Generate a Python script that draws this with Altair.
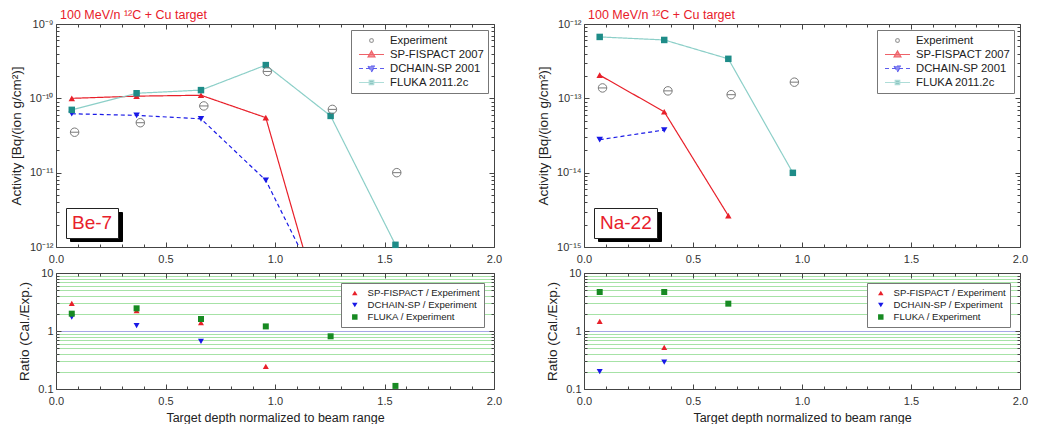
import math
import altair as alt
import pandas as pd

FONT = "Liberation Sans"

# ---------------- data ----------------
SERIES = ["Experiment", "SP-FISPACT 2007", "DCHAIN-SP 2001", "FLUKA 2011.2c"]
MODELS = SERIES[1:]
RATIO_SERIES = ["SP-FISPACT / Experiment", "DCHAIN-SP / Experiment", "FLUKA / Experiment"]
PANEL_LABELS = ["Be-7", "Na-22"]
TITLE = "100 MeV/n ¹²C + Cu target"

X_MODEL = [0.072, 0.368, 0.662, 0.958, 1.254, 1.550]
X_EXP = [0.085, 0.385, 0.675, 0.965, 1.262, 1.556]

# Be-7 activity [Bq/(ion g/cm2)]  (last SP / DCHAIN values lie below the plotted range)
BE7_EXP = [3.5e-11, 4.7e-11, 7.9e-11, 2.3e-10, 7.1e-11, 1.0e-11]
BE7_SP = [1.0e-10, 1.07e-10, 1.1e-10, 5.5e-11, 5.0e-14]
BE7_DC = [6.2e-11, 5.9e-11, 5.3e-11, 7.9e-12, 1.4e-13]
BE7_FL = [7.0e-11, 1.17e-10, 1.29e-10, 2.8e-10, 5.8e-11, 1.07e-12]

# Na-22 activity
NA22_EXP = [1.38e-13, 1.26e-13, 1.12e-13, 1.65e-13]
NA22_SP = [2.05e-13, 6.6e-14, 2.64e-15]
NA22_DC = [2.78e-14, 3.75e-14]
NA22_FL = [6.7e-13, 6.1e-13, 3.4e-13, 9.95e-15]

# Ratios Cal./Exp.
BE7_R_SP = [3.0, 2.24, 1.39, 0.246]
BE7_R_DC = [1.74, 1.24, 0.66]
BE7_R_FL = [1.99, 2.46, 1.61, 1.2, 0.81, 0.113]
NA22_R_SP = [1.47, 0.52]
NA22_R_DC = [0.199, 0.29]
NA22_R_FL = [4.7, 4.7, 2.96]

# ---------------- styles ----------------
RED = "#e8202a"
BLUE = "#1818e6"
TEAL_M = "#1e8c88"
TEAL_L = "#8ccfc8"
GRAY = "#7a7a7a"
GREEN = "#178a22"
FRAME = "#444444"

W_L, W_R = 438, 436
H_T, H_B = 223, 116

EXP_PATH = "M1,0A1,1 0 1,1 -1,0A1,1 0 1,1 1,0Z M-1,0L1,0"
LEG_PATHS = [
    "M0.15,0A0.15,0.15 0 1,1 -0.15,0A0.15,0.15 0 1,1 0.15,0Z",
    "M-1,0L1,0M0,-0.28L0.28,0.2L-0.28,0.2Z",
    "M-1,0L1,0M0,0.28L0.28,-0.2L-0.28,-0.2Z",
    "M-1,0L1,0M-0.18,-0.18L0.18,-0.18L0.18,0.18L-0.18,0.18Z",
]
FILL_RANGE = ["transparent", RED, BLUE, TEAL_M]
STROKE_RANGE = [GRAY, RED, BLUE, TEAL_L]
DASH_RANGE = [[1, 0], [1, 0], [4, 3], [1, 0]]
MODEL_STYLE = {
    MODELS[0]: dict(line=RED, dash=[1, 0], shape="triangle-up", fill=RED),
    MODELS[1]: dict(line=BLUE, dash=[4, 3], shape="triangle-down", fill=BLUE),
    MODELS[2]: dict(line=TEAL_L, dash=[1, 0], shape="square", fill=TEAL_M),
}

# Arial / Liberation Sans advance widths (per 1000 em) for sizing the label shadow
ADV = {"B": 667, "e": 556, "-": 333, "7": 556, "N": 722, "a": 556, "2": 556}
BOX_FS = 19
BOX_PAD = 5
BOX_H = 19

SUP_EXPR = ("'10' + replace(replace(replace(replace(replace(replace(replace(replace("
            "'' + round(log(datum.value)/LN10), '-', '⁻'), regexp('1','g'), '¹'), regexp('2','g'), '²'),"
            " '3', '³'), '4', '⁴'), '5', '⁵'), '9', '⁹'), '0', '⁰')")
DECADE_TEST = "abs(log(datum.value)/LN10 - round(log(datum.value)/LN10)) < 1e-6"
HALF_TEST = "abs(datum.value*2 - round(datum.value*2)) < 1e-6"

X_TICKS = [round(i * 0.1, 1) for i in range(21)]
X_LABELS = [0.0, 0.5, 1.0, 1.5, 2.0]

NONPOS = ["color", "fill", "stroke", "shape", "strokeDash", "opacity", "strokeOpacity"]


def indep(ch):
    ch = ch.resolve_scale(**{c: "independent" for c in NONPOS})
    return ch.resolve_legend(**{c: "independent" for c in NONPOS})


def log_ticks(e0, e1):
    vals = []
    for e in range(e0, e1):
        for k in range(1, 10):
            vals.append(float(f"{k}e{e}"))
    vals.append(float(f"1e{e1}"))
    return vals


def tick_layers(base, xs, ys, yticks, W, H):
    tick_common = dict(labels=False, domain=False, grid=False, title=None, tickColor=FRAME, tickWidth=1)
    xsize = {"condition": {"test": HALF_TEST, "value": 5}, "value": 3}
    ysize = {"condition": {"test": DECADE_TEST, "value": 5}, "value": 3}
    a = base.transform_filter("false").mark_point().encode(
        x=alt.X("x:Q", scale=xs, axis=alt.Axis(orient="top", offset=-H, values=X_TICKS, tickSize=xsize, **tick_common)),
        y=alt.Y("y:Q", scale=ys, axis=alt.Axis(orient="right", offset=-W, values=yticks, tickSize=ysize, **tick_common)),
    )
    b = base.transform_filter("false").mark_point().encode(
        x=alt.X("x:Q", scale=xs, axis=alt.Axis(orient="bottom", offset=-H, values=X_TICKS, tickSize=xsize, **tick_common)),
        y=alt.Y("y:Q", scale=ys, axis=alt.Axis(orient="left", offset=-W, values=yticks, tickSize=ysize, **tick_common)),
    )
    return [a, b]


def label_layers(label, H):
    tw = sum(ADV[c] for c in label) * BOX_FS / 1000.0 + 1
    lab_df = pd.DataFrame({"tag": [label], "shadow": [label]})
    top = H - 10 - BOX_H - 2 * BOX_PAD
    shadow = alt.Chart(lab_df).mark_point(opacity=0, filled=True).encode(
        color=alt.Color("shadow:N", scale=alt.Scale(range=["black"]),
                        legend=alt.Legend(title=None, orient="none", legendX=14, legendY=top + 4,
                                          padding=BOX_PAD, fillColor="black", strokeColor="black",
                                          symbolType="square", symbolSize=tw * tw, clipHeight=BOX_H,
                                          symbolOpacity=1, symbolStrokeWidth=0, labelExpr="''",
                                          labelFontSize=1, labelOffset=0)))
    box = alt.Chart(lab_df).mark_point(opacity=0, filled=True).encode(
        color=alt.Color("tag:N", scale=alt.Scale(range=["white"]),
                        legend=alt.Legend(title=None, orient="none", legendX=10, legendY=top,
                                          padding=BOX_PAD, fillColor="white", strokeColor="#222222",
                                          labelFont=FONT, labelFontSize=BOX_FS, labelColor=RED, clipHeight=BOX_H,
                                          symbolOpacity=0, symbolSize=1, symbolStrokeWidth=0,
                                          labelOffset={"expr": str(1 - BOX_FS)})))
    return [shadow, box]


def top_panel(label, exp, sp, dc, fl, ydom, W, H):
    rows = []
    for name, xv, vals in [("Experiment", X_EXP, exp), (MODELS[0], X_MODEL, sp),
                           (MODELS[1], X_MODEL, dc), (MODELS[2], X_MODEL, fl)]:
        for a, b in zip(xv, vals):
            rows.append({"series": name, "x": a, "y": b})
    df = pd.DataFrame(rows)
    base = alt.Chart(df)
    xs = alt.Scale(domain=[0, 2])
    ys = alt.Scale(type="log", domain=ydom)
    e0 = round(math.log10(ydom[0]))
    e1 = round(math.log10(ydom[1]))
    decades = [float(f"1e{e}") for e in range(e0, e1 + 1)]
    yticks = log_ticks(e0, e1)

    L = alt.Legend(title=None, orient="top-right", offset=6, padding=4, strokeColor="#777777", fillColor="white",
                   labelFont=FONT, labelFontSize=11.3, labelColor="#222222", symbolSize=625, clipHeight=13,
                   rowPadding=1, labelOffset=5, symbolOffset=3, symbolStrokeWidth=1.2)
    leg = base.transform_filter("false").mark_point().encode(
        shape=alt.Shape("series:N", scale=alt.Scale(domain=SERIES, range=LEG_PATHS), legend=L),
        fill=alt.Fill("series:N", scale=alt.Scale(domain=SERIES, range=FILL_RANGE), legend=L),
        stroke=alt.Stroke("series:N", scale=alt.Scale(domain=SERIES, range=STROKE_RANGE), legend=L),
        strokeDash=alt.StrokeDash("series:N", scale=alt.Scale(domain=SERIES, range=DASH_RANGE), legend=L),
    )

    ax_x = alt.Axis(values=X_LABELS, format=".1f", ticks=False, domain=False, grid=False,
                    labelPadding=6, labelFlush=False, title=None)
    ax_y = alt.Axis(values=decades, labelExpr=SUP_EXPR, ticks=False, domain=False, grid=False,
                    labelPadding=3, title="Activity [Bq/(ion g/cm²)]", titlePadding=6, titleLimit=400,
                    labelOverlap=False)

    layers = label_layers(label, H) + [leg]
    first = True
    for m in MODELS:
        st = MODEL_STYLE[m]
        layers.append(base.transform_filter(alt.datum.series == m).mark_line(
            clip=True, strokeWidth=1.2, color=st["line"], strokeDash=st["dash"]).encode(
            x=alt.X("x:Q", scale=xs, axis=ax_x if first else None),
            y=alt.Y("y:Q", scale=ys, axis=ax_y if first else None),
        ))
        first = False
    for m in MODELS:
        st = MODEL_STYLE[m]
        layers.append(base.transform_filter(f"datum.series == '{m}' && datum.y >= {ydom[0]}").mark_point(
            filled=True, size=42, opacity=1, shape=st["shape"], color=st["fill"]).encode(
            x=alt.X("x:Q", scale=xs, axis=None),
            y=alt.Y("y:Q", scale=ys, axis=None),
        ))
    layers.append(base.transform_filter("datum.series == 'Experiment'").mark_point(
        shape=EXP_PATH, size=72, filled=False, color=GRAY, strokeWidth=1, opacity=1).encode(
        x=alt.X("x:Q", scale=xs, axis=None),
        y=alt.Y("y:Q", scale=ys, axis=None),
    ))
    layers += tick_layers(base, xs, ys, yticks, W, H)
    return alt.layer(*layers).resolve_scale(color="independent").resolve_axis(
        x="independent", y="independent").properties(
        width=W, height=H,
        title=alt.TitleParams(TITLE, anchor="start", frame="group", color=RED, fontSize=12.5,
                              fontWeight="normal", font=FONT, offset=-3, dx=4))


def ratio_panel(sp, dc, fl, W, H):
    rows = []
    for name, vals in zip(RATIO_SERIES, [sp, dc, fl]):
        for a, b in zip(X_MODEL, vals):
            rows.append({"series": name, "x": a, "y": b})
    df = pd.DataFrame(rows)
    base = alt.Chart(df)
    xs = alt.Scale(domain=[0, 2])
    ys = alt.Scale(type="log", domain=[0.1, 10])
    yticks = log_ticks(-1, 1)
    L = alt.Legend(title=None, orient="top-right", offset=10, padding=4, strokeColor="#777777", fillColor="white",
                   labelFont=FONT, labelFontSize=9.6, labelColor="#222222", symbolSize=30, clipHeight=12,
                   rowPadding=0, labelOffset=8, symbolOffset=5, symbolStrokeWidth=0)
    ax_x = alt.Axis(values=X_LABELS, format=".1f", ticks=False, domain=False, grid=False, labelPadding=6,
                    labelFlush=False, title="Target depth normalized to beam range", titlePadding=5)
    ax_y = alt.Axis(values=yticks, labelExpr="datum.value == 0.1 ? '0.1' : datum.value == 1 ? '1' : datum.value == 10 ? '10' : ''",
                    ticks=False, domain=False, grid=True, labelOverlap=False, labelPadding=3,
                    gridColor={"condition": {"test": "abs(datum.value - 1) < 1e-6", "value": "#a8a8e6"},
                               "value": "#a6e2a6"},
                    gridOpacity={"condition": {"test": "datum.value < 0.11 || datum.value > 9.5", "value": 0},
                                 "value": 1},
                    gridWidth=1.2, title="Ratio (Cal./Exp.)", titlePadding=6, titleLimit=400)
    pts = base.mark_point(filled=True, size=36, opacity=1).encode(
        x=alt.X("x:Q", scale=xs, axis=ax_x),
        y=alt.Y("y:Q", scale=ys, axis=ax_y),
        shape=alt.Shape("series:N", scale=alt.Scale(domain=RATIO_SERIES,
                                                    range=["triangle-up", "triangle-down", "square"]), legend=L),
        fill=alt.Fill("series:N", scale=alt.Scale(domain=RATIO_SERIES, range=[RED, BLUE, GREEN]), legend=L),
    )
    layers = [pts] + tick_layers(base, xs, ys, yticks, W, H)
    return alt.layer(*layers).resolve_axis(x="independent", y="independent").properties(width=W, height=H)


left = indep(alt.vconcat(
    top_panel(PANEL_LABELS[0], BE7_EXP, BE7_SP, BE7_DC, BE7_FL, [1e-12, 1e-9], W_L, H_T),
    ratio_panel(BE7_R_SP, BE7_R_DC, BE7_R_FL, W_L, H_B),
    spacing=1,
))
right = indep(alt.vconcat(
    top_panel(PANEL_LABELS[1], NA22_EXP, NA22_SP, NA22_DC, NA22_FL, [1e-15, 1e-12], W_R, H_T),
    ratio_panel(NA22_R_SP, NA22_R_DC, NA22_R_FL, W_R, H_B),
    spacing=1,
))

chart = indep(alt.hconcat(left, right, spacing=32)).properties(padding=0).configure_view(
    stroke=FRAME, strokeWidth=1
).configure_axis(
    labelFont=FONT, titleFont=FONT, labelFontSize=11, labelColor="#333333",
    titleFontSize=13.5, titleFontWeight="normal", titleColor="#222222", labelFlush=False
).configure_axisX(titleFontSize=12.5)

chart.save("out.html", embed_options={"renderer": "svg", "actions": False})
